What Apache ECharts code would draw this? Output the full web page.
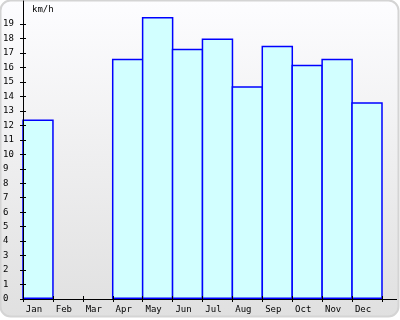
<!DOCTYPE html>
<html>
<head>
<meta charset="utf-8">
<script src="https://cdn.jsdelivr.net/npm/echarts@6/dist/echarts.min.js"></script>
<style>html,body{margin:0;padding:0;background:#fff;}#c{width:400px;height:320px;}</style>
</head>
<body>
<div id="c"></div>
<script>
var categories = ['Jan','Feb','Mar','Apr','May','Jun','Jul','Aug','Sep','Oct','Nov','Dec'];
var windSpeed = [12.4, null, null, 16.6, 19.5, 17.3, 18.0, 14.7, 17.5, 16.2, 16.6, 13.6];
var yTicks = [0,1,2,3,4,5,6,7,8,9,10,11,12,13,14,15,16,17,18,19];
var unitLabel = 'km/h';

var chart = echarts.init(document.getElementById('c'), null, {renderer: 'canvas'});
var font = 'DejaVu Sans Mono';
var option = {
  animation: false,
  title: {text: unitLabel, left: 27, top: 0, textStyle: {fontFamily: font, fontSize: 9, fontWeight: 'normal', color: '#000'}},
  graphic: [
    {type: 'rect', z: -10, silent: true, shape: {x: 0.5, y: 0.5, width: 398, height: 316, r: 10},
     style: {fill: new echarts.graphic.LinearGradient(0, 0, 0, 1, [{offset: 0, color: '#fdfdff'}, {offset: 1, color: '#e0e0e0'}]), stroke: '#d4d4d4', lineWidth: 2}},
    {type: 'line', z: 5, silent: true, shape: {x1: 382, y1: 299.5, x2: 397, y2: 299.5}, style: {stroke: '#000', lineWidth: 1}}
  ],
  grid: {left: 22, right: 18, top: 1, bottom: 21, containLabel: false},
  xAxis: [
    {type: 'category', data: categories, boundaryGap: true, z: 5,
     axisLine: {lineStyle: {color: '#000', width: 1}},
     axisTick: {show: true, length: 3, lineStyle: {color: '#000'}},
     axisLabel: {color: '#000', fontFamily: font, fontSize: 9, margin: 6, padding: [0, 8, 0, 0]},
     splitLine: {show: false}},
    {type: 'category', data: categories, boundaryGap: true, position: 'bottom', z: 5,
     axisLine: {show: false}, axisLabel: {show: false},
     axisTick: {show: true, inside: true, length: 3, lineStyle: {color: '#000'}}}
  ],
  yAxis: [
    {type: 'value', min: 0, max: 20.6, z: 5,
     axisLine: {show: true, lineStyle: {color: '#000', width: 1}},
     axisTick: {show: true, length: 3, customValues: yTicks, lineStyle: {color: '#000'}},
     axisLabel: {color: '#000', fontFamily: font, fontSize: 9, margin: 20, align: 'left', customValues: yTicks},
     splitLine: {show: false}},
    {type: 'value', min: 0, max: 20.6, position: 'left', z: 5,
     axisLine: {show: false}, axisLabel: {show: false}, splitLine: {show: false},
     axisTick: {show: true, inside: true, length: 3, customValues: yTicks, lineStyle: {color: '#000'}}}
  ],
  series: [{
    type: 'bar', data: windSpeed, barWidth: 31.5, z: 2,
    itemStyle: {color: '#d2ffff', borderColor: '#0000ff', borderWidth: 1.5}
  }]
};
chart.setOption(option);
</script>
</body>
</html>
